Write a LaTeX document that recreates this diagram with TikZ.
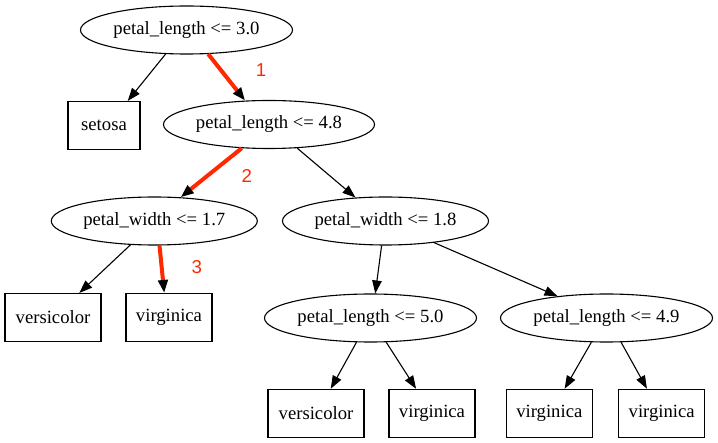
\documentclass[tikz,border=0pt]{standalone}
\usepackage{fontspec}
\setmainfont{Liberation Serif}
\newfontfamily\stepfont{Liberation Sans}
\usetikzlibrary{arrows.meta,shapes.geometric}
\definecolor{pathred}{RGB}{255,40,0}
\begin{document}
\begin{tikzpicture}[x=1pt,y=-1pt,
	split/.style={ellipse, draw, line width=1.1pt, inner sep=0pt, minimum width=#1, minimum height=48pt, font=\fontsize{18.67}{22}\selectfont},
	split/.default=212pt,
	leaf/.style={rectangle, draw, line width=1.1pt, inner sep=0pt, minimum width=#1, minimum height=48pt, font=\fontsize{18.67}{22}\selectfont},
	leaf/.default=86pt,
	link/.style={line width=1.1pt, -{Triangle[length=13pt,width=9.5pt]}},
	hot/.style={pathred, line width=4pt, -{Triangle[length=13pt,width=9.5pt,black]}},
	stepnum/.style={pathred, font=\stepfont\fontsize{18.67}{22}\selectfont}]
	\useasboundingbox (0,0) rectangle (718,443);
	\node (R)   at (186.5, 30)  [split]       {petal\_length <= 3.0};
	\node (S)   at (104, 125.5) [leaf=72pt]   {setosa};
	\node (P48) at (269, 124.5) [split=211pt] {petal\_length <= 4.8};
	\node (W17) at (154.3, 221) [split=206pt] {petal\_width <= 1.7};
	\node (W18) at (385.5, 221) [split=206pt] {petal\_width <= 1.8};
	\node (VC1) at (53, 317.5)  [leaf=96pt]   {versicolor};
	\node (VG1) at (169, 317.5) [leaf]        {virginica};
	\node (P50) at (370.5, 318) [split]       {petal\_length <= 5.0};
	\node (P49) at (606.5, 318) [split]       {petal\_length <= 4.9};
	\node (VC2) at (316, 413.3) [leaf=96pt]   {versicolor};
	\node (VG2) at (432, 413.3) [leaf]        {virginica};
	\node (VG3) at (549.3, 413.3) [leaf]      {virginica};
	\node (VG4) at (661.7, 413.3) [leaf]      {virginica};
	% tree edges
	\draw[link] (R.229) -- (S.46);
	\draw[hot] (R.312) -- (P48.135);
	\draw[hot] (P48.221) -- (W17.42);
	\draw[link] (P48.320) -- (W18.142);
	\draw[link] (W17.225) -- (VC1.43);
	\draw[hot] (W17.282) -- (VG1.101);
	\draw[link] (W18.261) -- (P50.79);
	\draw[link] (W18.336) -- (P49.156);
	\draw[link] (P50.240) -- (VC2.59);
	\draw[link] (P50.303) -- (VG2.123);
	\draw[link] (P49.238) -- (VG3.58);
	\draw[link] (P49.301) -- (VG4.121);
	% decision path steps
	\node (N1) at (261, 70)    [stepnum] {1};
	\node (N2) at (246.7, 176) [stepnum] {2};
	\node (N3) at (196.7, 267) [stepnum] {3};
\end{tikzpicture}
\end{document}
